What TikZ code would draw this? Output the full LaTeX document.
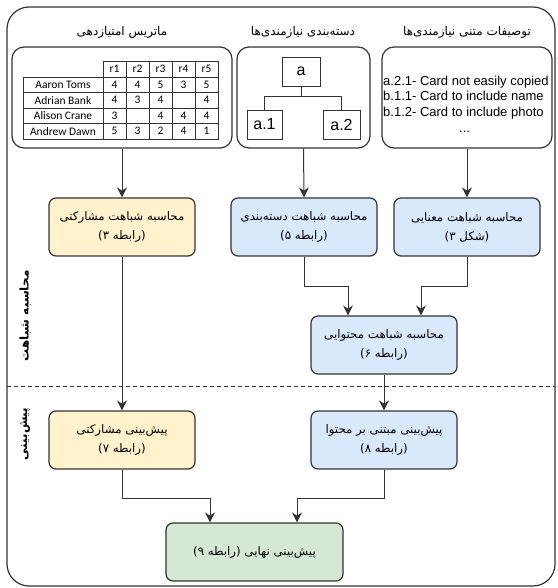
\documentclass[tikz,border=0pt]{standalone}
\usepackage{fontspec}
\setmainfont{Liberation Sans}
\newfontfamily\farsifont[Script=Arabic]{DejaVu Sans}
\newfontfamily\gridfont{Carlito}
\usetikzlibrary{arrows.meta}
\TeXXeTstate=1
\definecolor{edgegray}{HTML}{333333}
\definecolor{simyellow}{HTML}{FFF2CC}
\definecolor{simblue}{HTML}{DAE8FC}
\definecolor{simgreen}{HTML}{D5E8D4}
\newcommand{\fatxt}[1]{\beginR #1\endR}

\begin{document}
\begin{tikzpicture}[x=1pt,y=-1pt,
        panel/.style={draw=edgegray,line width=1.2pt,rounded corners=12pt,minimum height=101pt},
        procbox/.style={draw=edgegray,line width=1.2pt,rounded corners=7pt,minimum width=146pt,minimum height=58pt,align=center,font=\farsifont\fontsize{11.8}{19}\selectfont},
        cell/.style={font=\gridfont\fontsize{11.5}{12}\selectfont,inner sep=0pt},
        leaf/.style={draw=edgegray,line width=0.9pt,font=\fontsize{16}{16}\selectfont,minimum height=29pt,inner sep=0pt},
        flow/.style={draw=edgegray,line width=1pt,-{Stealth[length=10pt,width=10pt]}}]
        \useasboundingbox (0,0) rectangle (557,588);

        \draw[edgegray,line width=1.2pt,rounded corners=22pt] (7,7) rectangle (555,586);
        \draw[edgegray,line width=0.9pt,dash pattern=on 4pt off 3pt] (7,386) -- (555,386);

        \node[rotate=90,font=\farsifont\bfseries\fontsize{12}{14}\selectfont] (simlabel) at (25,316) {\fatxt{محاسبه شباهت}};
        \node[rotate=90,font=\farsifont\bfseries\fontsize{12}{14}\selectfont] (predlabel) at (25,434) {\fatxt{پیش^^^^200cبینی}};

        % inputs
        \node[font=\farsifont\fontsize{12}{14}\selectfont] (lblmat) at (122,32) {\fatxt{ماتریس امتیازدهی}};
        \node[font=\farsifont\fontsize{12}{14}\selectfont] (lbltax) at (303,32) {\fatxt{دسته^^^^200cبندی نیازمندی^^^^200cها}};
        \node[font=\farsifont\fontsize{12}{14}\selectfont] (lbldesc) at (467,32) {\fatxt{توصیفات متنی نیازمندی^^^^200cها}};

        \node[panel,minimum width=220pt] (mat) at (122,97.5) {};
        \node[panel,minimum width=133pt] (tax) at (303.5,97.5) {};
        \node[panel,minimum width=170pt] (desc) at (467,97.5) {};

        \draw[edgegray,line width=0.7pt] (103,61) -- (218,61);
        \draw[edgegray,line width=0.7pt] (23,77) rectangle (218,139);
        \foreach \ry in {92.5,108,123.5}
            \draw[edgegray,line width=0.7pt] (23,\ry) -- (218,\ry);
        \foreach \cx in {103,126,149,172,195,218}
            \draw[edgegray,line width=0.7pt] (\cx,61) -- (\cx,139);
        \foreach \j in {1,...,5}
            \node[cell] (head\j) at (91.5+23*\j,69) {r\j};
        \foreach \nm [count=\i] in {Aaron Toms,Adrian Bank,Alison Crane,Andrew Dawn}
            \node[cell] (user\i) at (63,69.25+15.5*\i) {\nm};
        \foreach \row [count=\i] in {{4,4,5,3,5},{4,3,4,{},4},{3,{},4,4,4},{5,3,2,4,1}}
            \foreach \v [count=\j] in \row
                \node[cell] (rate\i-\j) at (91.5+23*\j,69.25+15.5*\i) {\v};

        \node[leaf,minimum width=38pt] (ta) at (301,71.5) {a};
        \node[leaf,minimum width=35pt] (ta1) at (264.5,124.5) {a.1};
        \node[leaf,minimum width=37pt] (ta2) at (341.5,124.5) {a.2};
        \draw[edgegray,line width=0.9pt] (ta.south) -- ++(0,10) -| (ta1.north);
        \draw[edgegray,line width=0.9pt] (ta.south) ++(0,10) -| (ta2.north);

        \node[anchor=west,align=left,font=\fontsize{13}{15.7}\selectfont,inner sep=0pt] (reqs) at (383,104)
            {a.2.1- Card not easily copied\\b.1.1- Card to include name\\b.1.2- Card to include photo\\\hspace*{76pt}...};

        % similarity
        \node[procbox,fill=simyellow] (simcf) at (122,227) {\fatxt{محاسبه شباهت مشارکتی}\\\fatxt{(رابطه ۳)}};
        \node[procbox,fill=simblue] (simtax) at (304,227) {\fatxt{محاسبه شباهت دسته^^^^200cبندی}\\\fatxt{(رابطه ۵)}};
        \node[procbox,fill=simblue] (simsem) at (467,227) {\fatxt{محاسبه شباهت معنایی}\\\fatxt{(شکل ۳)}};
        \node[procbox,fill=simblue] (simcb) at (384,345) {\fatxt{محاسبه شباهت محتوایی}\\\fatxt{(رابطه ۶)}};

        \draw[flow] (mat.south) -- (simcf.north);
        \draw[flow] (tax.south) -- (simtax.north);
        \draw[flow] (desc.south) -- (simsem.north);
        \draw[flow] (simtax.south) -- ++(0,30) -| ([xshift=-36pt]simcb.north);
        \draw[flow] (simsem.south) -- ++(0,30) -| ([xshift=37pt]simcb.north);

        % prediction
        \node[procbox,fill=simyellow] (predcf) at (122,440) {\fatxt{پیش^^^^200cبینی مشارکتی}\\\fatxt{(رابطه ۷)}};
        \node[procbox,fill=simblue] (predcb) at (384,440) {\fatxt{پیش^^^^200cبینی مبتنی بر محتوا}\\\fatxt{(رابطه ۸)}};
        \node[procbox,fill=simgreen,minimum width=177pt] (final) at (254.5,552) {\fatxt{پیش^^^^200cبینی نهایی (رابطه ۹)}};

        \draw[flow] (simcf.south) -- (predcf.north);
        \draw[flow] (simcb.south) -- (predcb.north);
        \draw[flow] (predcf.south) -- ++(0,29) -| ([xshift=-44.5pt]final.north);
        \draw[flow] (predcb.south) -- ++(0,29) -| ([xshift=42.5pt]final.north);

    \end{tikzpicture}
\end{document}
